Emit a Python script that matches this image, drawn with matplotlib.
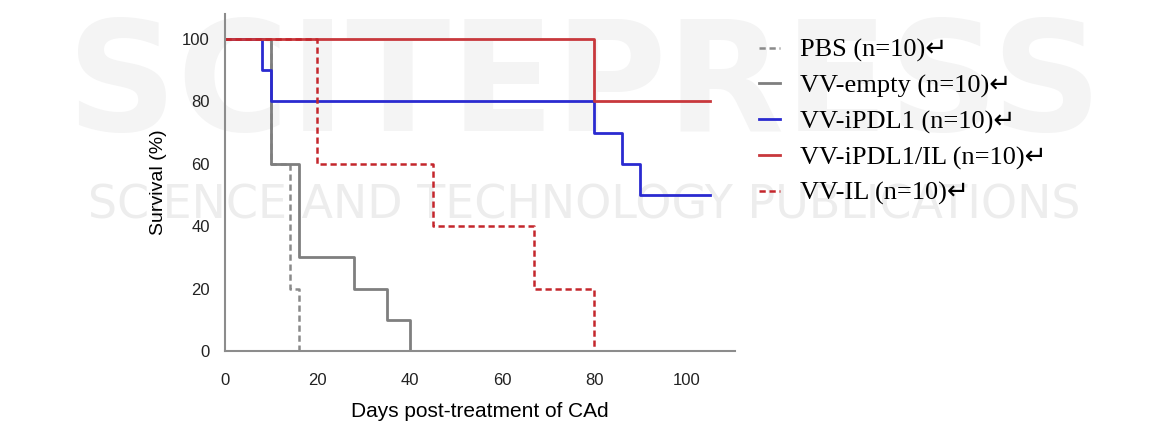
import matplotlib
matplotlib.use('Agg')
from matplotlib import pyplot as plt

#----------------------------
# survival curves (day, % alive), step after each day
#----------------------------

pbs_days = [0, 10, 14, 16]
pbs_surv = [100, 60, 20, 0]

empty_days = [0, 10, 16, 28, 35, 40]
empty_surv = [100, 60, 30, 20, 10, 0]

ipdl1_days = [0, 8, 10, 80, 86, 90, 105]
ipdl1_surv = [100, 90, 80, 70, 60, 50, 50]

ipdl1_il_days = [0, 80, 105]
ipdl1_il_surv = [100, 80, 80]

il_days = [0, 20, 45, 67, 80]
il_surv = [100, 60, 40, 20, 0]

labels = ['PBS (n=10)\u21b5', 'VV-empty (n=10)\u21b5', 'VV-iPDL1 (n=10)\u21b5',
          'VV-iPDL1/IL (n=10)\u21b5', 'VV-IL (n=10)\u21b5']
x_ticks = [0, 20, 40, 60, 80, 100]
y_ticks = [0, 20, 40, 60, 80, 100]

#----------------------------

fig = plt.figure(figsize=(11.69, 4.21), dpi=100)

# faint publisher watermark, kept behind the axes
fig.text(0.5, 0.79, 'SCITEPRESS', fontsize=110, color='#f4f4f4', ha='center', va='center',
         family='DejaVu Sans', weight='bold', zorder=-5)
fig.text(0.5, 0.51, 'SCIENCE AND TECHNOLOGY PUBLICATIONS', fontsize=33, color='#ededed',
         ha='center', va='center', family='DejaVu Sans', zorder=-5)

ax = fig.add_axes([0.1925, 0.1663, 0.4362, 0.8004])
ax.set_zorder(2)
ax.patch.set_alpha(0)

ax.step(pbs_days, pbs_surv, where='post', color='#8a8a8a', lw=1.8, ls=(0, (2.5, 1.5)))
ax.step(empty_days, empty_surv, where='post', color='#7f7f7f', lw=2)
ax.step(ipdl1_days, ipdl1_surv, where='post', color='#2a2ad0', lw=2)
ax.step(ipdl1_il_days, ipdl1_il_surv, where='post', color='#c8383c', lw=2)
ax.step(il_days, il_surv, where='post', color='#c4262c', lw=1.8, ls=(0, (2.5, 1.5)))

ax.set_xlim(0, 110.5)
ax.set_ylim(0, 108)
ax.set_xticks(x_ticks)
ax.set_yticks(y_ticks)
ax.tick_params(length=0, labelsize=12, labelcolor='#222222')
ax.tick_params(axis='x', pad=16)
ax.tick_params(axis='y', pad=11)
for lab in ax.get_xticklabels() + ax.get_yticklabels():
    lab.set_family('Liberation Sans')

for s in ['top', 'right']:
    ax.spines[s].set_visible(False)
for s in ['left', 'bottom']:
    ax.spines[s].set_color('#8c8c8c')
    ax.spines[s].set_linewidth(1.5)

ax.set_ylabel('Survival (%)', fontsize=14, family='Liberation Sans', labelpad=11)
ax.set_xlabel('Days post-treatment of CAd', fontsize=15, family='Liberation Sans', labelpad=10)

# legend at the right, serif like in the figure
handles = ax.get_lines()
leg = fig.legend(handles, labels, loc='upper left', bbox_to_anchor=(0.629, 0.965),
                 frameon=False, handlelength=0.8, handletextpad=0.75, labelspacing=0.45,
                 prop={'family': ['Liberation Serif', 'DejaVu Sans'], 'size': 19})
leg.set_zorder(3)

plt.savefig('out.png', dpi=100)
